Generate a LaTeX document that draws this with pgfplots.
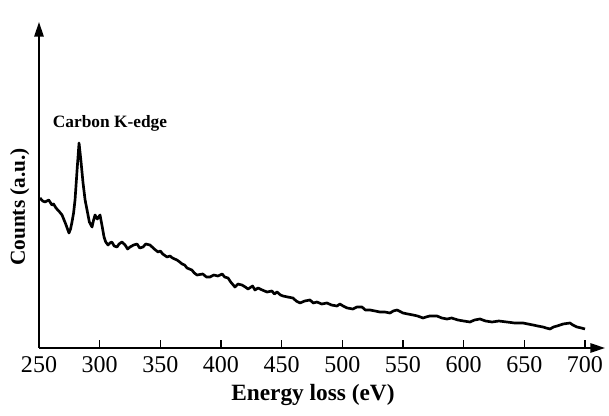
\documentclass[border=0pt]{standalone}
\usepackage{fontspec}
\setmainfont{Liberation Serif}
\usepackage{pgfplots}
\pgfplotsset{compat=1.18}
\usetikzlibrary{arrows.meta}

\pgfplotstableread{
x y
250.8 150
253.0 147
255.0 146
258.0 148
260.7 143
262.0 144
264.0 140
267.0 136
269.0 133
272.0 124
274.7 115
276.0 119
277.2 126
278.5 135
279.7 148
281.5 180
283.0 205
284.5 188
286.3 165
288.0 148
289.6 138
291.5 126
293.7 121
295.0 128
296.2 133
298.0 129
300.3 133
302.0 122
303.6 111
305.0 106
306.9 103
308.5 105
310.0 106
312.0 102
314.3 101
316.0 104
318.4 106
321.0 103
323.0 99
325.0 101
328.0 103
330.8 104
333.0 100
335.7 101
338.0 104
341.5 103
345.0 99
348.1 96
350.0 97
352.0 94
355.5 91
358.0 92
360.0 90
363.7 88
366.0 86
368.0 84
370.0 83
372.0 80
376.0 78
378.0 75
380.2 73
385.0 74
388.0 71
390.9 71
394.0 73
397.5 72
401.0 74
403.0 71
405.8 70
408.0 66
411.5 61
414.0 64
417.3 63
420.0 61
422.3 59
426.0 62
428.0 58
430.5 60
434.0 58
437.9 56
442.0 57
444.0 54
446.2 56
449.0 53
451.1 52
455.0 51
459.3 50
462.0 47
465.1 45
469.0 47
473.4 48
476.0 45
479.1 46
483.0 44
487.4 45
491.0 43
495.6 42
498.0 44
500.6 42
504.0 40
508.8 39
512.0 41
516.2 41
519.0 38
522.8 38
527.0 37
531.0 36
535.0 36
539.3 35
542.0 37
545.1 38
550.0 35
554.0 34
558.3 33
562.0 32
566.5 30
569.0 31
572.0 32
578.0 32
582.0 30
586.3 29
590.0 30
595.3 28
600.0 27
605.2 26
609.0 28
613.5 29
618.0 27
623.4 26
629.0 27
635.7 26
642.0 25
648.9 25
653.0 24
657.2 23
661.0 22
665.4 21
668.0 20
671.2 19
674.0 21
677.0 22
682.0 24
687.6 25
690.0 23
693.4 21
697.0 20
700.0 19
}\spectrum

\begin{document}
\begin{tikzpicture}
\begin{axis}[
    at={(0,0)}, anchor=south west,
    scale only axis,
    width=424.5pt, height=244.5pt,
    xmin=250, xmax=716.5,
    ymin=0, ymax=326,
    axis lines=left,
    axis line style={line width=1.5pt, -{Triangle[length=11pt,width=7pt]}},
    xtick={250,300,...,700},
    ytick=\empty,
    tick style={black, line width=1.2pt},
    major tick length=6pt,
    xtick align=inside,
    tick label style={font=\fontsize{18}{20}\selectfont},
    /pgf/number format/assume math mode=true,
    xticklabel style={yshift=-3pt},
    xlabel={\textbf{Energy loss (eV)}},
    xlabel style={font=\fontsize{17.5}{20}\selectfont, at={(axis description cs:0.484,0)}, anchor=center, yshift=-35pt},
    ylabel={\textbf{Counts (a.u.)}},
    ylabel style={font=\fontsize{16}{18}\selectfont, at={(axis description cs:-0.034,0.433)}, anchor=center, rotate=0},
    clip=false,
]
\addplot[black, line width=2pt, line join=round] table[x=x, y=y] {\spectrum};
\node[font=\bfseries\fontsize{13}{15}\selectfont] at (axis cs:308.5,225) {Carbon K-edge};
\end{axis}
\pgfresetboundingbox
\path (-29.25pt,-51pt) rectangle (427.5pt,261pt);
\end{tikzpicture}
\end{document}
